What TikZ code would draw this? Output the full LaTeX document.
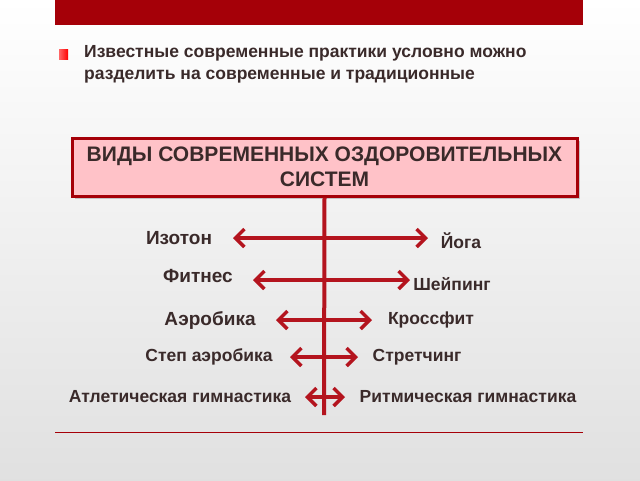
\documentclass[tikz,border=0pt]{standalone}
\usepackage{fontspec}
\setmainfont{Liberation Sans}
\usetikzlibrary{arrows.meta, shadows}
\definecolor{barred}{HTML}{A50008}
\definecolor{linered}{HTML}{B4141E}
\definecolor{boxpink}{HTML}{FFC2C8}
\definecolor{txt}{HTML}{3A2A2A}

\begin{document}
\begin{tikzpicture}[
    x=1pt, y=-1pt,
    label/.style={font=\bfseries\fontsize{17.5}{20}\selectfont, text=txt},
    biglabel/.style={font=\bfseries\fontsize{19}{22}\selectfont, text=txt},
    both/.style={draw=linered, line width=3.5pt, {Straight Barb[length=9pt,width=18pt]}-{Straight Barb[length=9pt,width=18pt]}}
]
   % Background and frame
   \useasboundingbox (0,0) rectangle (640,480);
   \shade[top color=white, bottom color=black!12] (0,0) rectangle (640,480);
   \fill[barred] (55,0) rectangle (583,25);
   \draw[barred, line width=1pt] (55,432) -- (583,432);

   % Intro
   \shade[left color=red!60, right color=red] (59,49) rectangle (68,59);
   \node[anchor=north west, align=left, inner sep=0pt, text=txt, font=\bfseries\fontsize{17.5}{22}\selectfont] (intro) at (84,45)
      {Известные современные практики условно можно\\разделить на современные и традиционные};

   % Title box
   \node[draw=barred, line width=3pt, fill=boxpink, minimum width=505pt, minimum height=58pt,
         inner sep=1pt, align=center, text=txt, font=\bfseries\fontsize{21}{25}\selectfont,
         drop shadow={opacity=0.4}] (title) at (324.5,167)
      {ВИДЫ СОВРЕМЕННЫХ ОЗДОРОВИТЕЛЬНЫХ\\СИСТЕМ};
   \coordinate (stem) at (324,415);
   \draw[linered, line width=4pt] (title.south) -- (stem);

   % Arrows
   \coordinate (a1) at (233,238); \coordinate (b1) at (428,238);
   \coordinate (a2) at (253,280); \coordinate (b2) at (410,280);
   \coordinate (a3) at (276,320); \coordinate (b3) at (372,320);
   \coordinate (a4) at (290,357); \coordinate (b4) at (358,357);
   \coordinate (a5) at (305,397); \coordinate (b5) at (345,397);
   \foreach \i in {1,...,5}
      \draw[both] (a\i) -- (b\i);

   % Labels
   \node[biglabel] (izoton) at (179,238) {Изотон};
   \node[label] (yoga) at (461,241) {Йога};
   \node[biglabel] (fitnes) at (198,276) {Фитнес};
   \node[label] (sheiping) at (452,284) {Шейпинг};
   \node[biglabel] (aerobika) at (210,320) {Аэробика};
   \node[label] (krossfit) at (431,320) {Кроссфит};
   \node[label] (step) at (209,357) {Степ аэробика};
   \node[label] (stretching) at (417,357) {Стретчинг};
   \node[label] (atlet) at (180,397) {Атлетическая гимнастика};
   \node[label] (ritm) at (468,397) {Ритмическая гимнастика};
\end{tikzpicture}
\end{document}
